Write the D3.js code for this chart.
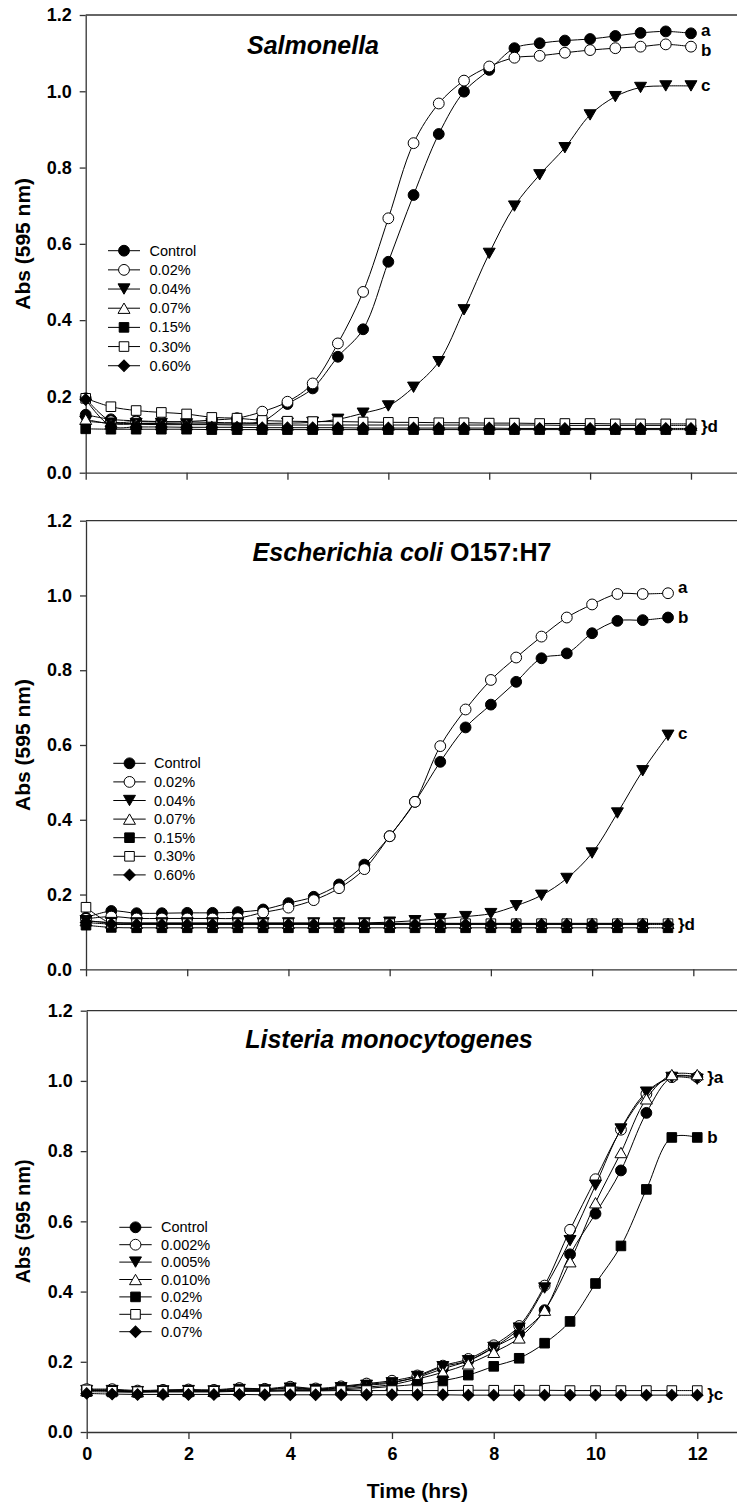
<!DOCTYPE html>
<html>
<head>
<meta charset="utf-8">
<script src="https://cdn.jsdelivr.net/npm/d3@7"></script>
<style>
  body { margin: 0; background: #fff; }
  svg { display: block; font-family: "Liberation Sans", Arial, sans-serif; }
</style>
</head>
<body>
<svg id="fig" width="737" height="1510"></svg>
<script>
// Sampling times (h)
const timeHrs = [0, 0.5, 1, 1.5, 2, 2.5, 3, 3.5, 4, 4.5, 5, 5.5, 6, 6.5, 7, 7.5, 8, 8.5, 9, 9.5, 10, 10.5, 11, 11.5, 12];

// Y axis ticks (Abs 595 nm) and x axis ticks (h)
const yTicks = [0, 0.2, 0.4, 0.6, 0.8, 1.0, 1.2];
const xTicks = [0, 2, 4, 6, 8, 10, 12];

// ---- Salmonella ----
const salLegend = ["Control", "0.02%", "0.04%", "0.07%", "0.15%", "0.30%", "0.60%"];
const salControl = [0.152, 0.140, 0.136, 0.134, 0.133, 0.132, 0.131, 0.135, 0.180, 0.221, 0.304, 0.376, 0.553, 0.728, 0.888, 0.999, 1.056, 1.113, 1.126, 1.133, 1.137, 1.145, 1.153, 1.157, 1.152];
const sal002 = [0.195, 0.135, 0.134, 0.133, 0.134, 0.138, 0.143, 0.160, 0.186, 0.234, 0.339, 0.474, 0.667, 0.864, 0.968, 1.028, 1.065, 1.088, 1.093, 1.101, 1.108, 1.113, 1.117, 1.123, 1.117];
const sal004 = [0.135, 0.130, 0.129, 0.129, 0.128, 0.128, 0.128, 0.129, 0.130, 0.132, 0.140, 0.156, 0.175, 0.224, 0.291, 0.427, 0.575, 0.699, 0.781, 0.852, 0.938, 0.986, 1.010, 1.014, 1.014];
const sal007 = [0.140, 0.128, 0.127, 0.126, 0.126, 0.126, 0.125, 0.125, 0.125, 0.125, 0.125, 0.125, 0.125, 0.125, 0.125, 0.125, 0.125, 0.125, 0.125, 0.124, 0.124, 0.124, 0.124, 0.124, 0.124];
const sal015 = [0.115, 0.114, 0.114, 0.114, 0.114, 0.113, 0.113, 0.113, 0.113, 0.113, 0.113, 0.113, 0.113, 0.113, 0.113, 0.113, 0.113, 0.113, 0.113, 0.113, 0.113, 0.113, 0.113, 0.113, 0.113];
const sal030 = [0.195, 0.173, 0.163, 0.158, 0.154, 0.145, 0.143, 0.137, 0.135, 0.134, 0.134, 0.133, 0.132, 0.132, 0.131, 0.131, 0.130, 0.130, 0.129, 0.129, 0.129, 0.128, 0.128, 0.128, 0.128];
const sal060 = [0.192, 0.122, 0.120, 0.120, 0.119, 0.119, 0.119, 0.118, 0.118, 0.118, 0.118, 0.117, 0.117, 0.117, 0.117, 0.117, 0.117, 0.116, 0.116, 0.116, 0.116, 0.116, 0.116, 0.116, 0.116];

// ---- Escherichia coli O157:H7 (0 - 11.5 h) ----
const ecoLegend = ["Control", "0.02%", "0.04%", "0.07%", "0.15%", "0.30%", "0.60%"];
const ecoControl = [0.138, 0.156, 0.150, 0.150, 0.151, 0.151, 0.153, 0.160, 0.177, 0.194, 0.227, 0.280, 0.356, 0.448, 0.555, 0.647, 0.708, 0.769, 0.832, 0.845, 0.899, 0.932, 0.934, 0.941];
const eco002 = [0.135, 0.141, 0.136, 0.136, 0.136, 0.136, 0.137, 0.152, 0.165, 0.185, 0.217, 0.268, 0.356, 0.448, 0.597, 0.695, 0.774, 0.834, 0.890, 0.941, 0.976, 1.004, 1.004, 1.006];
const eco004 = [0.130, 0.125, 0.124, 0.124, 0.124, 0.124, 0.124, 0.124, 0.124, 0.124, 0.124, 0.124, 0.126, 0.130, 0.135, 0.141, 0.149, 0.170, 0.198, 0.243, 0.311, 0.418, 0.531, 0.626];
const eco007 = [0.130, 0.124, 0.123, 0.123, 0.123, 0.123, 0.123, 0.123, 0.123, 0.123, 0.123, 0.123, 0.123, 0.123, 0.123, 0.123, 0.123, 0.123, 0.123, 0.123, 0.123, 0.123, 0.123, 0.123];
const eco015 = [0.118, 0.112, 0.111, 0.111, 0.111, 0.111, 0.111, 0.111, 0.111, 0.111, 0.111, 0.111, 0.111, 0.111, 0.111, 0.111, 0.111, 0.111, 0.111, 0.111, 0.111, 0.111, 0.111, 0.111];
const eco030 = [0.166, 0.123, 0.122, 0.122, 0.122, 0.122, 0.122, 0.122, 0.122, 0.122, 0.122, 0.122, 0.122, 0.122, 0.122, 0.122, 0.122, 0.122, 0.122, 0.122, 0.122, 0.122, 0.122, 0.122];
const eco060 = [0.125, 0.121, 0.120, 0.120, 0.120, 0.120, 0.120, 0.120, 0.120, 0.120, 0.120, 0.120, 0.120, 0.120, 0.120, 0.120, 0.120, 0.120, 0.120, 0.120, 0.120, 0.120, 0.120, 0.120];

// ---- Listeria monocytogenes ----
const lisLegend = ["Control", "0.002%", "0.005%", "0.010%", "0.02%", "0.04%", "0.07%"];
const lisControl = [0.120, 0.120, 0.116, 0.118, 0.120, 0.118, 0.124, 0.121, 0.127, 0.122, 0.128, 0.136, 0.142, 0.156, 0.180, 0.203, 0.241, 0.280, 0.347, 0.506, 0.622, 0.745, 0.909, 1.011, 1.011];
const lis0002 = [0.122, 0.122, 0.118, 0.120, 0.121, 0.120, 0.125, 0.123, 0.129, 0.124, 0.130, 0.138, 0.146, 0.161, 0.189, 0.208, 0.247, 0.302, 0.417, 0.576, 0.720, 0.861, 0.963, 1.011, 1.011];
const lis0005 = [0.118, 0.118, 0.115, 0.117, 0.118, 0.117, 0.121, 0.120, 0.125, 0.121, 0.126, 0.133, 0.140, 0.158, 0.186, 0.203, 0.241, 0.296, 0.410, 0.545, 0.703, 0.863, 0.968, 1.010, 1.005];
const lis0010 = [0.118, 0.118, 0.115, 0.116, 0.117, 0.116, 0.119, 0.118, 0.121, 0.120, 0.123, 0.128, 0.135, 0.151, 0.170, 0.194, 0.227, 0.268, 0.347, 0.485, 0.653, 0.796, 0.949, 1.018, 1.018];
const lis002 = [0.115, 0.114, 0.113, 0.114, 0.114, 0.114, 0.116, 0.116, 0.118, 0.118, 0.120, 0.124, 0.130, 0.136, 0.146, 0.162, 0.187, 0.210, 0.253, 0.315, 0.423, 0.530, 0.691, 0.839, 0.839];
const lis004 = [0.120, 0.116, 0.115, 0.116, 0.116, 0.116, 0.117, 0.117, 0.117, 0.117, 0.118, 0.118, 0.118, 0.118, 0.118, 0.119, 0.119, 0.119, 0.119, 0.118, 0.118, 0.118, 0.118, 0.118, 0.118];
const lis007 = [0.110, 0.108, 0.107, 0.107, 0.107, 0.107, 0.107, 0.106, 0.106, 0.106, 0.106, 0.106, 0.106, 0.106, 0.106, 0.105, 0.105, 0.105, 0.105, 0.105, 0.105, 0.105, 0.105, 0.105, 0.105];

// Marker style for each treatment slot (same order in every panel)
const markerKinds = ["circleFilled", "circleOpen", "triDownFilled", "triUpOpen", "squareFilled", "squareOpen", "diamondFilled"];

// Panel layout
const panels = [
  {
    title: [{ t: "Salmonella", italic: true }],
    series: [salControl, sal002, sal004, sal007, sal015, sal030, sal060],
    legend: salLegend,
    frame: { left: 85.7, top: 15, bottom: 472.7, hourPx: 50.44 },
    titlePos: { x: 313, y: 54 },
    legendPos: { x0: 108, x1: 140, tx: 149.5, y0: 250.7, step: 19.17 },
    yTitleSize: 21,
    xLabels: false,
    letters: [
      { text: "a", series: 0, dy: -3 },
      { text: "b", series: 1, dy: 3 },
      { text: "c", series: 2, dy: -1 },
      { text: "}d", series: 3, dy: 1 }
    ]
  },
  {
    title: [{ t: "Escherichia coli", italic: true }, { t: " O157:H7", italic: false }],
    series: [ecoControl, eco002, eco004, eco007, eco015, eco030, eco060],
    legend: ecoLegend,
    frame: { left: 86, top: 520.7, bottom: 969.3, hourPx: 50.61 },
    titlePos: { x: 402, y: 560.7 },
    legendPos: { x0: 113.3, x1: 145.7, tx: 154, y0: 763.3, step: 18.6 },
    yTitleSize: 21,
    xLabels: false,
    letters: [
      { text: "a", series: 1, dy: -6 },
      { text: "b", series: 0, dy: 0 },
      { text: "c", series: 2, dy: -2 },
      { text: "}d", series: 3, dy: 1 }
    ]
  },
  {
    title: [{ t: "Listeria monocytogenes", italic: true }],
    series: [lisControl, lis0002, lis0005, lis0010, lis002, lis004, lis007],
    legend: lisLegend,
    frame: { left: 86.7, top: 1010.7, bottom: 1432, hourPx: 50.88 },
    titlePos: { x: 389, y: 1048 },
    legendPos: { x0: 119.3, x1: 151.7, tx: 161, y0: 1227.3, step: 17.4 },
    yTitleSize: 19.7,
    xLabels: true,
    letters: [
      { text: "}a", series: 1, dy: 0 },
      { text: "b", series: 4, dy: 0 },
      { text: "}c", series: 5, dy: 3 }
    ]
  }
];

const svg = d3.select("#fig");
const FONT = '"Liberation Sans", Arial, sans-serif';

// Custom triangle centred on its bounding box
const triSymbol = {
  draw(ctx, size) {
    const a = Math.sqrt(size * 4 / Math.sqrt(3));
    const h = a * Math.sqrt(3) / 2;
    ctx.moveTo(0, -h / 2);
    ctx.lineTo(a / 2, h / 2);
    ctx.lineTo(-a / 2, h / 2);
    ctx.closePath();
  }
};

function drawMarker(g, kind, x, y) {
  let type, size, rot = 0, fill;
  switch (kind) {
    case "circleFilled": type = d3.symbolCircle; size = 92; fill = "#000"; break;
    case "circleOpen": type = d3.symbolCircle; size = 92; fill = "#fff"; break;
    case "triDownFilled": type = triSymbol; size = 62; rot = 180; fill = "#000"; break;
    case "triUpOpen": type = triSymbol; size = 62; fill = "#fff"; break;
    case "squareFilled": type = d3.symbolSquare; size = 92; fill = "#000"; break;
    case "squareOpen": type = d3.symbolSquare; size = 92; fill = "#fff"; break;
    case "diamondFilled": type = d3.symbolSquare; size = 66; rot = 45; fill = "#000"; break;
  }
  g.append("path")
    .attr("d", d3.symbol().type(type).size(size)())
    .attr("transform", `translate(${x},${y}) rotate(${rot})`)
    .attr("fill", fill)
    .attr("stroke", "#000")
    .attr("stroke-width", 1);
}

panels.forEach(p => {
  const f = p.frame;
  const x = d3.scaleLinear().domain([0, 13]).range([f.left, f.left + 13 * f.hourPx]);
  const y = d3.scaleLinear().domain([0, 1.2]).range([f.bottom, f.top]);
  const g = svg.append("g");

  // Top frame line
  g.append("line")
    .attr("x1", x(0)).attr("x2", x(13))
    .attr("y1", y(1.2)).attr("y2", y(1.2))
    .attr("stroke", "#333").attr("stroke-width", 1.3);

  // Y axis
  const yAxis = g.append("g")
    .attr("transform", `translate(${x(0)},0)`)
    .call(d3.axisLeft(y).tickValues(yTicks).tickFormat(d3.format(".1f")).tickSize(6).tickSizeOuter(0).tickPadding(8));
  yAxis.select(".domain").attr("stroke", "#333").attr("stroke-width", 1.3);
  yAxis.selectAll(".tick line").attr("stroke", "#333").attr("stroke-width", 1.3);
  yAxis.selectAll(".tick text")
    .attr("font-family", FONT).attr("font-size", 18).attr("font-weight", "bold").attr("fill", "#000");

  // X axis
  const xAxis = g.append("g")
    .attr("transform", `translate(0,${y(0)})`)
    .call(d3.axisBottom(x).tickValues(xTicks).tickFormat(p.xLabels ? d3.format("d") : "").tickSize(7).tickSizeOuter(0).tickPadding(8));
  xAxis.select(".domain").attr("stroke", "#333").attr("stroke-width", 1.3);
  xAxis.selectAll(".tick line").attr("stroke", "#333").attr("stroke-width", 1.3);
  xAxis.selectAll(".tick text")
    .attr("font-family", FONT).attr("font-size", 18).attr("font-weight", "bold").attr("fill", "#000");

  // Y axis title
  g.append("text")
    .attr("transform", `translate(30,${(y(0) + y(1.2)) / 2}) rotate(-90)`)
    .attr("text-anchor", "middle")
    .attr("font-family", FONT).attr("font-size", p.yTitleSize).attr("font-weight", "bold")
    .text("Abs (595 nm)");

  // Panel title
  const tt = g.append("text")
    .attr("x", p.titlePos.x).attr("y", p.titlePos.y)
    .attr("text-anchor", "middle")
    .attr("font-family", FONT).attr("font-size", 25).attr("font-weight", "bold");
  p.title.forEach(part => {
    tt.append("tspan").attr("font-style", part.italic ? "italic" : "normal").text(part.t);
  });

  // Growth curves
  const line = d3.line()
    .x((d, i) => x(timeHrs[i]))
    .y(d => y(d))
    .curve(d3.curveCatmullRom.alpha(0.5));

  p.series.forEach((vals, si) => {
    const sg = g.append("g");
    sg.append("path")
      .attr("d", line(vals))
      .attr("fill", "none")
      .attr("stroke", "#000")
      .attr("stroke-width", 1);
    vals.forEach((v, i) => drawMarker(sg, markerKinds[si], x(timeHrs[i]), y(v)));
  });

  // Legend
  const L = p.legendPos;
  p.legend.forEach((name, i) => {
    const ly = L.y0 + i * L.step;
    const lg = g.append("g");
    lg.append("line")
      .attr("x1", L.x0).attr("x2", L.x1).attr("y1", ly).attr("y2", ly)
      .attr("stroke", "#000").attr("stroke-width", 1);
    drawMarker(lg, markerKinds[i], (L.x0 + L.x1) / 2, ly);
    lg.append("text")
      .attr("x", L.tx).attr("y", ly).attr("dy", "0.35em")
      .attr("font-family", FONT).attr("font-size", 14.5)
      .text(name);
  });

  // Significance letters beside the last point of a series
  p.letters.forEach(l => {
    const vals = p.series[l.series];
    const last = vals.length - 1;
    g.append("text")
      .attr("x", x(timeHrs[last]) + 10)
      .attr("y", y(vals[last]) + l.dy)
      .attr("dy", "0.35em")
      .attr("font-family", FONT).attr("font-size", 17).attr("font-weight", "bold")
      .text(l.text);
  });

  // X axis title
  if (p.xLabels) {
    g.append("text")
      .attr("x", x(6.5)).attr("y", 1498)
      .attr("text-anchor", "middle")
      .attr("font-family", FONT).attr("font-size", 21).attr("font-weight", "bold")
      .text("Time (hrs)");
  }
});
</script>
</body>
</html>
